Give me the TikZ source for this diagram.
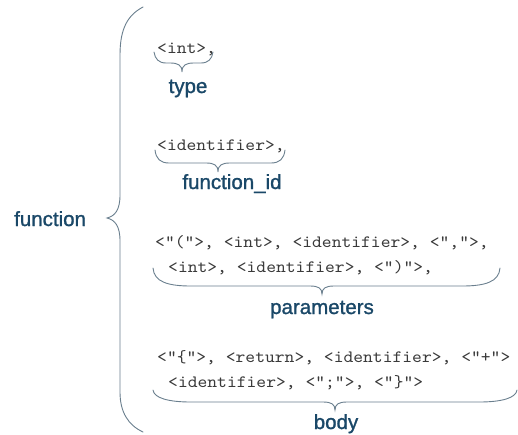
\documentclass[tikz,border=0pt]{standalone}
\usepackage{fontspec}
\setmainfont{Liberation Sans}
\newfontfamily\labelfont{Liberation Sans}[FakeBold=1.2]
\newfontfamily\codefont{lmmono10-regular.otf}[FakeStretch=1.08]
\definecolor{bracecol}{HTML}{6A7F8E}
\definecolor{labelcol}{HTML}{1A4868}
\definecolor{codecol}{HTML}{3A3A3A}
\newcommand\bracepath[8]{%
  \draw[bracestyle] (#1,#2) .. controls ({#1+1},{#3-4}) and ({#1+0.4*#8},#3) .. ({#1+#8},#3)
    -- ({#4-12},#3) .. controls ({#4-4},#3) and (#4,{#3+2}) .. (#4,#5)
    .. controls (#4,{#3+2}) and ({#4+4},#3) .. ({#4+12},#3)
    -- ({#6-#8},#3) .. controls ({#6-0.4*#8},#3) and ({#6-1},{#3-4}) .. (#6,#7);}
\tikzset{
  bracestyle/.style={draw=bracecol, line width=0.9pt, line cap=round},
  codetext/.style={inner sep=0pt, anchor=base west, text=codecol, font=\codefont\fontsize{17.3}{20}\selectfont},
  labeltext/.style={inner sep=0pt, anchor=base, text=labelcol, font=\labelfont\fontsize{20.5}{24}\selectfont},
}
\begin{document}
\begin{tikzpicture}[x=1pt,y=-1pt]
\useasboundingbox[fill=white] (0,0) rectangle (518,434);
% big brace
\draw[bracestyle] (143,7) .. controls (128,15) and (120,28) .. (120,55) -- (120,195)
  .. controls (120,210) and (115,216) .. (107,218)
  .. controls (115,220) and (120,226) .. (120,241) -- (120,392)
  .. controls (120,412) and (128,425) .. (143,432);
\node[labeltext, anchor=base west] (lfunc) at (14,226) {function};
% row 1
\node[codetext] (t1) at (157,53) {<int>,};
\bracepath{154}{52}{63}{182}{72}{213}{52}{12}
\node[labeltext] (ltype) at (188,93) {type};
% row 2
\node[codetext] (t2) at (157,150) {<identifier>,};
\bracepath{155}{150}{163}{218}{172}{285}{150}{14}
\node[labeltext] (lid) at (232,189) {function\_id};
% row 3
\node[codetext] (t3a) at (155,247) {<”(”>, <int>, <identifier>, <”,”>,};
\node[codetext] (t3b) at (168,272) {<int>, <identifier>, <”)”>,};
\bracepath{153}{268}{286}{322}{294}{500}{268}{38}
\node[labeltext] (lparam) at (322,314) {parameters};
% row 4
\node[codetext] (t4a) at (157,362) {<”\{”>, <return>, <identifier>, <”+”>};
\node[codetext] (t4b) at (168,387) {<identifier>, <”;”>, <”\}”>};
\bracepath{153}{390}{402}{335}{410}{517}{390}{38}
\node[labeltext] (lbody) at (336,429) {body};
\end{tikzpicture}
\end{document}
